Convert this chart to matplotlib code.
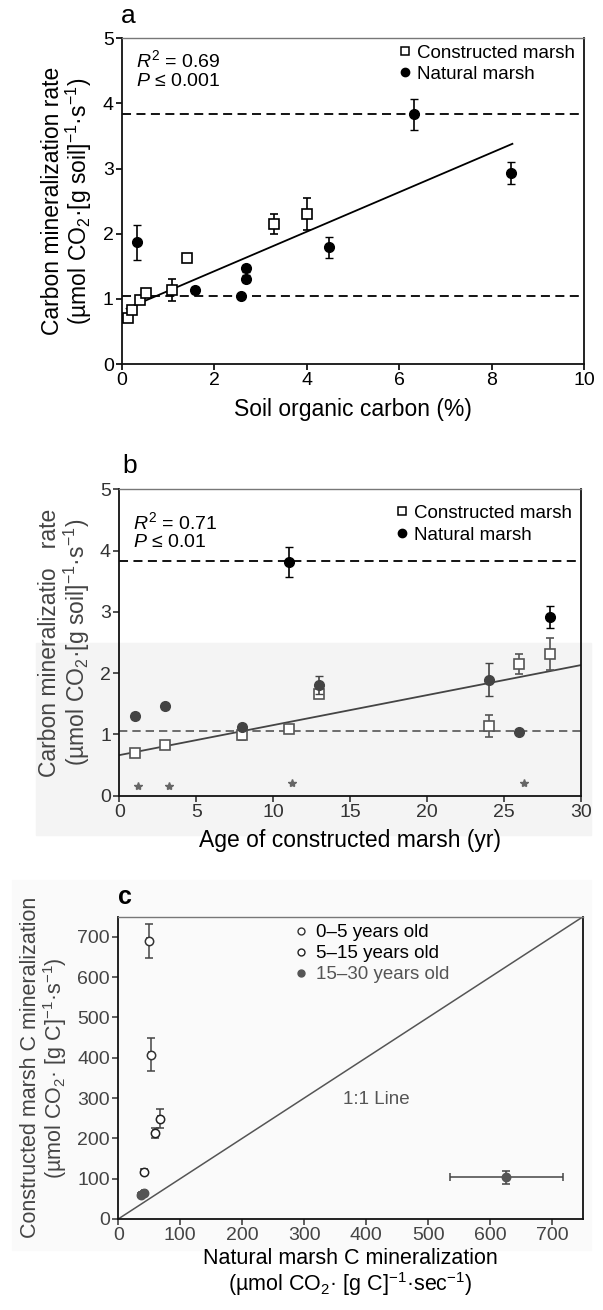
import matplotlib
matplotlib.use('Agg')
import matplotlib.pyplot as plt
from matplotlib.patches import Rectangle
from matplotlib.lines import Line2D
import numpy as np

plt.rcParams['font.family'] = ['Liberation Sans', 'DejaVu Sans']
plt.rcParams['mathtext.fontset'] = 'custom'
plt.rcParams['mathtext.rm'] = 'Liberation Sans'
plt.rcParams['mathtext.it'] = 'Liberation Sans:italic'

# ---------------- data ----------------
# panel a : rate vs soil organic carbon
a_con_x = [0.14, 0.22, 0.40, 0.51, 1.08, 1.40, 3.28, 4.00]
a_con_y = [0.70, 0.83, 0.99, 1.09, 1.14, 1.63, 2.15, 2.30]
a_con_err = [0.03, 0.06, 0.06, 0.04, 0.17, 0.03, 0.16, 0.25]
a_nat_x = [0.32, 1.58, 2.58, 2.68, 2.68, 4.49, 6.32, 8.42]
a_nat_y = [1.87, 1.14, 1.05, 1.31, 1.47, 1.79, 3.83, 2.93]
a_nat_err = [0.27, 0.05, 0.03, 0.05, 0.05, 0.16, 0.24, 0.17]
a_fit_x = [0.10, 8.45]
a_fit_y = [0.85, 3.38]

# panel b : rate vs age of constructed marsh
b_age = [1, 3, 8, 11, 13, 24, 26, 28]
b_con_y = [0.69, 0.83, 0.99, 1.09, 1.65, 1.14, 2.15, 2.31]
b_con_err = [0.02, 0.05, 0.08, 0.05, 0.04, 0.18, 0.16, 0.26]
b_nat_y = [1.30, 1.46, 1.12, 3.81, 1.80, 1.89, 1.04, 2.92]
b_nat_err = [0.05, 0.04, 0.05, 0.24, 0.15, 0.27, 0.03, 0.18]
b_star_x = [1.2, 3.2, 11.2, 26.3]
b_star_y = [0.15, 0.15, 0.20, 0.20]
b_fit_x = [0, 30]
b_fit_y = [0.66, 2.13]

# reference levels (natural marsh range)
ref_hi = 3.83
ref_lo = 1.05

# panel c : constructed vs natural, per g C
c_nat = [50, 53, 67, 59, 41, 37, 41, 626]
c_nat_err = [3, 3, 3, 3, 3, 3, 3, 91]
c_con = [690, 408, 249, 214, 117, 60, 65, 103]
c_con_err = [43, 41, 24, 12, 6, 5, 5, 17]
c_group = ['0-5', '0-5', '5-15', '5-15', '5-15', '15-30', '15-30', '15-30']
c_group_labels = ['0\u20135 years old', '5\u201315 years old', '15\u201330 years old']

# ---------------- figure ----------------
fig = plt.figure(figsize=(6.03, 13.10), dpi=100)

# faint scan tone behind lower part of panel b and panel c
fig.patches.append(Rectangle((0.06, 1 - 835 / 1310), 0.92, (835 - 643) / 1310,
                             transform=fig.transFigure, color='#f4f4f4', zorder=-5))
fig.patches.append(Rectangle((0.02, 1 - 1250 / 1310), 0.96, (1250 - 880) / 1310,
                             transform=fig.transFigure, color='#fafafa', zorder=-5))

FS_TICK = 14
FS_LAB = 16.5
FS_LEG = 13.5


def style_axes(ax, tickcolor='black'):
    ax.tick_params(direction='out', length=4, width=1.2, labelsize=FS_TICK,
                   top=False, right=False, colors=tickcolor, pad=2)
    for s in ['left', 'bottom', 'right']:
        ax.spines[s].set_linewidth(1.3)
        ax.spines[s].set_color('#111111')
    ax.spines['top'].set_linewidth(1.0)
    ax.spines['top'].set_color('#777777')


# ---- panel a ----
ax = fig.add_axes([0.2023, 0.7221, 0.7662, 0.2487])
ax.set_xlim(0, 10)
ax.set_ylim(0, 5)
ax.set_xticks(np.arange(0, 11, 2))
ax.set_yticks(np.arange(0, 6, 1))
style_axes(ax)
ax.axhline(ref_hi, color='black', ls=(0, (5, 3)), lw=1.3)
ax.axhline(ref_lo, color='black', ls=(0, (5, 3)), lw=1.3)
ax.plot(a_fit_x, a_fit_y, color='black', lw=1.3)
ax.errorbar(a_con_x, a_con_y, yerr=a_con_err, fmt='s', ms=7, mfc='white', mec='black',
            mew=1.2, ecolor='black', elinewidth=1.2, capsize=3, zorder=3)
ax.errorbar(a_nat_x, a_nat_y, yerr=a_nat_err, fmt='o', ms=7, mfc='black', mec='black',
            ecolor='black', elinewidth=1.2, capsize=3, zorder=3)
ax.text(0.03, 0.965, r'$R^2$ = 0.69' + '\n' + r'$P$ ' + '\u2264 0.001',
        transform=ax.transAxes, fontsize=FS_LEG + 0.5, va='top', linespacing=1.1)
h_con = Line2D([], [], ls='none', marker='s', ms=6, mfc='white', mec='black', mew=1.1)
h_nat = Line2D([], [], ls='none', marker='o', ms=6, mfc='black', mec='black')
ax.legend([h_con, h_nat], ['Constructed marsh', 'Natural marsh'], loc='upper left',
          bbox_to_anchor=(0.60, 0.98), frameon=False, fontsize=FS_LEG, borderpad=0,
          handlelength=0.6, handletextpad=0.35, labelspacing=0.2, borderaxespad=0)
ax.set_xlabel('Soil organic carbon (%)', fontsize=FS_LAB, labelpad=6)
ax.set_ylabel('Carbon mineralization rate\n(\u00b5mol CO$_2$\u00b7[g soil]$^{-1}$\u00b7s$^{-1}$)',
              fontsize=FS_LAB, labelpad=6, linespacing=1.0)
fig.text(128 / 603, 1 - 16 / 1310, 'a', fontsize=19, ha='center', va='center')

# ---- panel b ----
ax = fig.add_axes([0.1978, 0.3927, 0.7657, 0.2338])
ax.set_facecolor('none')
ax.set_xlim(0, 30)
ax.set_ylim(0, 5)
ax.set_xticks(np.arange(0, 31, 5))
ax.set_yticks(np.arange(0, 6, 1))
style_axes(ax, tickcolor='#333333')
ax.axhline(ref_hi, color='black', ls=(0, (5, 3)), lw=1.3)
ax.axhline(ref_lo, color='#555555', ls=(0, (5, 3)), lw=1.2)
ax.plot(b_fit_x, b_fit_y, color='#444444', lw=1.3)
for xi, yi, ei in zip(b_age, b_con_y, b_con_err):
    col = 'black' if yi > 2.5 else '#555555'
    ax.errorbar(xi, yi, yerr=ei, fmt='s', ms=7, mfc='white', mec=col, mew=1.2,
                ecolor=col, elinewidth=1.2, capsize=3, zorder=3)
for xi, yi, ei in zip(b_age, b_nat_y, b_nat_err):
    col = 'black' if yi > 2.5 else '#444444'
    ax.errorbar(xi, yi, yerr=ei, fmt='o', ms=7, mfc=col, mec=col,
                ecolor=col, elinewidth=1.2, capsize=3, zorder=4)
ax.plot(b_star_x, b_star_y, ls='none', marker='*', ms=6, color='#666666')
ax.text(0.03, 0.93, r'$R^2$ = 0.71' + '\n' + r'$P$ ' + '\u2264 0.01',
        transform=ax.transAxes, fontsize=FS_LEG + 0.5, va='top', linespacing=1.1)
ax.legend([h_con, h_nat], ['Constructed marsh', 'Natural marsh'], loc='upper left',
          bbox_to_anchor=(0.60, 0.95), frameon=False, fontsize=FS_LEG, borderpad=0,
          handlelength=0.6, handletextpad=0.35, labelspacing=0.25, borderaxespad=0)
ax.set_xlabel('Age of constructed marsh (yr)', fontsize=FS_LAB, labelpad=6)
ax.set_ylabel('Carbon mineralizatio   rate\n(\u00b5mol CO$_2$\u00b7[g soil]$^{-1}$\u00b7s$^{-1}$)',
              fontsize=FS_LAB, labelpad=6, linespacing=1.0, color='#444444')
fig.text(130 / 603, 1 - 466 / 1310, 'b', fontsize=19, ha='center', va='center')

# ---- panel c ----
ax = fig.add_axes([0.1962, 0.0695, 0.7706, 0.2307])
ax.set_facecolor('none')
ax.set_xlim(0, 750)
ax.set_ylim(0, 750)
ax.set_xticks(np.arange(0, 701, 100))
ax.set_yticks(np.arange(0, 701, 100))
style_axes(ax, tickcolor='#444444')
ax.plot([0, 750], [0, 750], color='#555555', lw=1.1)
ax.text(416, 296, '1:1 Line', fontsize=FS_LEG, color='#555555', ha='center', va='center')
c_nat_a = np.array(c_nat)
c_con_a = np.array(c_con)
grp = np.array(c_group)
styles = {'0-5': dict(mfc='white', mec='#333333'),
          '5-15': dict(mfc='white', mec='#222222'),
          '15-30': dict(mfc='#555555', mec='#555555')}
handles = []
for g in ['0-5', '5-15', '15-30']:
    m = grp == g
    ax.errorbar(c_nat_a[m], c_con_a[m], xerr=np.array(c_nat_err)[m], yerr=np.array(c_con_err)[m],
                fmt='o', ms=6, mew=1.1, ecolor='#444444', elinewidth=1.1, capsize=3,
                zorder=3, **styles[g])
    handles.append(Line2D([], [], ls='none', marker='o', ms=5, mew=1.0, **styles[g]))
leg = ax.legend(handles, c_group_labels, loc='upper left', bbox_to_anchor=(0.376, 0.975),
                frameon=False, fontsize=FS_LEG, borderpad=0, handlelength=0.8,
                handletextpad=0.45, labelspacing=0.2, borderaxespad=0)
leg.get_texts()[2].set_color('#555555')
ax.set_xlabel('Natural marsh C mineralization\n(\u00b5mol CO$_2$\u00b7 [g C]$^{-1}$\u00b7sec$^{-1}$)',
              fontsize=15.5, labelpad=3, linespacing=1.05)
ax.set_ylabel('Constructed marsh C mineralization\n(\u00b5mol CO$_2$\u00b7 [g C]$^{-1}$\u00b7s$^{-1}$)',
              fontsize=15.5, labelpad=6, linespacing=1.0, color='#444444')
fig.text(125 / 603, 1 - 897 / 1310, 'c', fontsize=18, ha='center', va='center',
         fontweight='bold')

fig.savefig('out.png', dpi=100)
